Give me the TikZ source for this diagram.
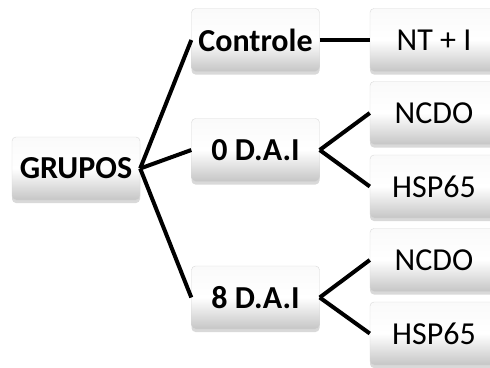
\documentclass[tikz,border=0pt]{standalone}
\usepackage{fontspec}
\setmainfont{Carlito}
\usetikzlibrary{shadows}
\begin{document}
\begin{tikzpicture}[x=1pt,y=-1pt,
  box/.style={rectangle, rounded corners=4pt, minimum width=128pt, minimum height=63pt,
    inner sep=0pt, draw=gray!30, line width=0.4pt,
    top color=gray!4, bottom color=gray!45, middle color=white,
    drop shadow={opacity=0.3, shadow xshift=0pt, shadow yshift=-3pt},
    font=\fontsize{32}{34}\selectfont},
  bbox/.style={box, font=\fontsize{32}{34}\selectfont\bfseries},
  conn/.style={line width=4pt, black}]
\useasboundingbox (0,0) rectangle (490,367);
\node[bbox] (g) at (76,168.5) {GRUPOS};
\node[bbox] (c) at (255.5,40) {Controle};
\node[bbox] (d0) at (255.5,150) {0 D.A.I};
\node[bbox] (d8) at (255.5,297.5) {8 D.A.I};
\node[box] (nt) at (434,40) {NT + I};
\node[box] (n1) at (434,113) {NCDO};
\node[box] (h1) at (434,186.5) {HSP65};
\node[box] (n2) at (434,260) {NCDO};
\node[box] (h2) at (434,333.5) {HSP65};
\draw[conn] (g.east) -- (c.west);
\draw[conn] (g.east) -- (d0.west);
\draw[conn] (g.east) -- (d8.west);
\draw[conn] (c.east) -- (nt.west);
\draw[conn] (d0.east) -- (n1.west);
\draw[conn] (d0.east) -- (h1.west);
\draw[conn] (d8.east) -- (n2.west);
\draw[conn] (d8.east) -- (h2.west);
\end{tikzpicture}
\end{document}
